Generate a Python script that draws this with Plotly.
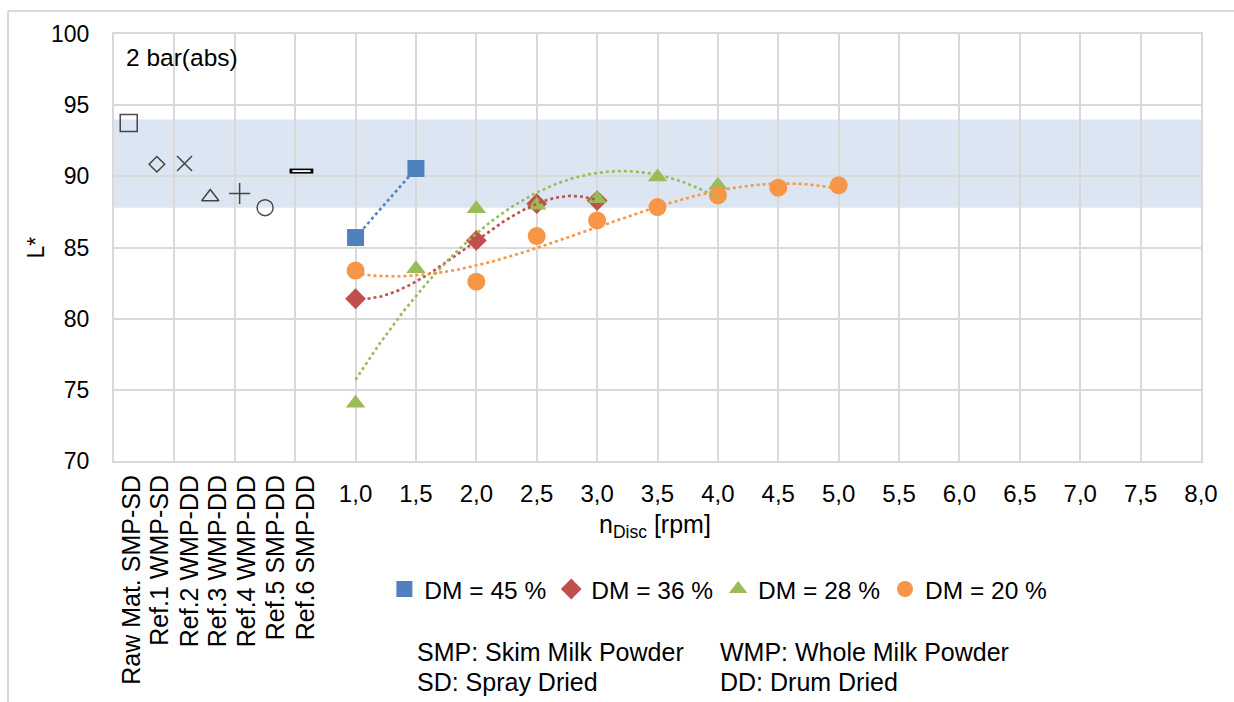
import numpy as np
import plotly.graph_objects as go

# ---------------- data ----------------
disc_vals = [1.0, 1.5, 2.0, 2.5, 3.0, 3.5, 4.0, 4.5, 5.0, 5.5, 6.0, 6.5, 7.0, 7.5, 8.0]
disc_labels = ["1,0", "1,5", "2,0", "2,5", "3,0", "3,5", "4,0", "4,5", "5,0", "5,5",
               "6,0", "6,5", "7,0", "7,5", "8,0"]

ref_labels = ["Raw Mat. SMP-SD", "Ref.1 WMP-SD", "Ref.2 WMP-DD", "Ref.3 WMP-DD",
              "Ref.4 WMP-DD", "Ref.5 SMP-DD", "Ref.6 SMP-DD"]
ref_label_x = [-0.853, -0.618, -0.369, -0.137, 0.104, 0.344, 0.585]
ref_x = [-0.878, -0.645, -0.416, -0.203, 0.040, 0.251, 0.552]
ref_y = [93.75, 90.85, 90.9, 88.55, 88.8, 87.8, 90.37]

dm45_x = [1.0, 1.5]
dm45_y = [85.7, 90.55]
dm36_x = [1.0, 2.0, 2.5, 3.0]
dm36_y = [81.4, 85.5, 88.08, 88.3]
dm28_x = [1.0, 1.5, 2.0, 2.5, 3.0, 3.5, 4.0]
dm28_y = [74.05, 83.5, 87.72, 87.96, 88.43, 89.95, 89.37]
dm20_x = [1.0, 2.0, 2.5, 3.0, 3.5, 4.0, 4.5, 5.0]
dm20_y = [83.38, 82.6, 85.8, 86.9, 87.84, 88.66, 89.2, 89.37]

band_low, band_high = 87.8, 94.0

# ---------------- styles ----------------
FONT = "Liberation Sans, Arial, sans-serif"
GRID = "#D9D9D9"
ref_symbols = ["square-open", "diamond-open", "x-thin-open", "triangle-up-open",
               "cross-thin-open", "circle-open"]
ref_sizes = [17, 12, 15, 15, 15, 16]

series = [
    ("DM = 45 %", dm45_x, dm45_y, "#4F81BD", "square", 17, 1),
    ("DM = 36 %", dm36_x, dm36_y, "#C0504D", "diamond", 16, 3),
    ("DM = 28 %", dm28_x, dm28_y, "#9BBB59", "triangle-up", 17, 2),
    ("DM = 20 %", dm20_x, dm20_y, "#F79646", "circle", 18, 3),
]

fig = go.Figure()

# reference markers (on overlay axis x2, which carries the rotated labels)
fig.add_trace(go.Scatter(
    x=ref_x[:6], y=ref_y[:6], mode="markers", xaxis="x2", showlegend=False,
    marker=dict(symbol=ref_symbols, size=ref_sizes, color="black",
                line=dict(color="black", width=1.5)),
    hoverinfo="skip"))
fig.add_trace(go.Scatter(
    x=ref_x[6:], y=ref_y[6:], mode="markers", xaxis="x2", showlegend=False,
    marker=dict(symbol="line-ew", size=17, line=dict(color="black", width=5)),
    hoverinfo="skip"))
fig.add_trace(go.Scatter(
    x=ref_x[6:], y=ref_y[6:], mode="markers", xaxis="x2", showlegend=False,
    marker=dict(symbol="line-ew", size=13, line=dict(color="white", width=1.8)),
    hoverinfo="skip"))

for name, xs, ys, col, sym, size, deg in series:
    fig.add_trace(go.Scatter(
        x=xs, y=ys, mode="markers", name=name,
        marker=dict(symbol=sym, size=size, color=col, line=dict(width=0))))

for name, xs, ys, col, sym, size, deg in series:
    coef = np.polyfit(xs, ys, deg)
    xf = np.linspace(min(xs), max(xs), 120)
    fig.add_trace(go.Scatter(
        x=xf, y=np.polyval(coef, xf), mode="lines", showlegend=False,
        line=dict(color=col, width=2.6, dash="dot"), hoverinfo="skip"))

# ---------------- layout ----------------
shapes = [
    dict(type="rect", xref="paper", yref="y", x0=0, x1=1, y0=band_low, y1=band_high,
         fillcolor="#DCE6F2", line=dict(width=0), layer="below"),
    # chart-area border (top and left visible)
    dict(type="line", xref="paper", yref="paper", x0=-0.0975, x1=1.04, y0=1.0539, y1=1.0539,
         line=dict(color=GRID, width=2)),
    dict(type="line", xref="paper", yref="paper", x0=-0.0975, x1=-0.0975, y0=1.0539, y1=-0.6,
         line=dict(color=GRID, width=2)),
]

annotations = [
    dict(text="2 bar(abs)", xref="paper", yref="paper", x=0.0092, y=0.946,
         xanchor="left", yanchor="middle", showarrow=False, font=dict(size=24.5)),
    dict(text="L*", xref="paper", yref="paper", x=-0.0718, y=0.50, textangle=-90,
         xanchor="center", yanchor="middle", showarrow=False, font=dict(size=23)),
    dict(text="n<sub>Disc</sub> [rpm]", xref="paper", yref="paper", x=0.4977, y=-0.152,
         xanchor="center", yanchor="middle", showarrow=False, font=dict(size=25)),
    dict(text="SMP: Skim Milk Powder", xref="paper", yref="paper", x=0.2769, y=-0.4473,
         xanchor="left", yanchor="middle", showarrow=False, font=dict(size=25)),
    dict(text="WMP: Whole Milk Powder", xref="paper", yref="paper", x=0.5557, y=-0.4473,
         xanchor="left", yanchor="middle", showarrow=False, font=dict(size=25)),
    dict(text="SD: Spray Dried", xref="paper", yref="paper", x=0.2769, y=-0.5176,
         xanchor="left", yanchor="middle", showarrow=False, font=dict(size=25)),
    dict(text="DD: Drum Dried", xref="paper", yref="paper", x=0.5557, y=-0.5176,
         xanchor="left", yanchor="middle", showarrow=False, font=dict(size=25)),
]

fig.update_layout(
    width=1234, height=702,
    margin=dict(l=114, r=33, t=34, b=241),
    paper_bgcolor="white", plot_bgcolor="white",
    font=dict(family=FONT, size=22, color="black"),
    showlegend=True,
    legend=dict(orientation="h", x=0.556, xanchor="center", y=-0.30, yanchor="middle",
                font=dict(size=24.5), bgcolor="rgba(0,0,0,0)", itemwidth=30,
                tracegroupgap=0),
    xaxis=dict(range=[-1, 8], tickmode="array", tickvals=disc_vals, ticktext=disc_labels,
               showgrid=True, gridcolor=GRID, gridwidth=1.5,
               minor=dict(tickmode="linear", tick0=-1, dtick=0.5, showgrid=True,
                          gridcolor=GRID, gridwidth=1.5),
               showline=True, linecolor=GRID, linewidth=2, mirror=True,
               ticks="", zeroline=False, ticklabelstandoff=10,
               tickfont=dict(size=24)),
    xaxis2=dict(range=[-1, 8], overlaying="x", anchor="y", side="bottom",
                tickmode="array", tickvals=ref_label_x, ticktext=ref_labels,
                tickangle=-90, showgrid=False, showline=False, zeroline=False,
                ticks="", ticklabelstandoff=8, tickfont=dict(size=25)),
    yaxis=dict(range=[70, 100], dtick=5, showgrid=True, gridcolor=GRID, gridwidth=1.5,
               showline=True, linecolor=GRID, linewidth=2, mirror=True,
               ticks="", zeroline=False, ticklabelstandoff=18, tickfont=dict(size=23)),
    shapes=shapes,
    annotations=annotations,
)

fig.write_html("out.html")
